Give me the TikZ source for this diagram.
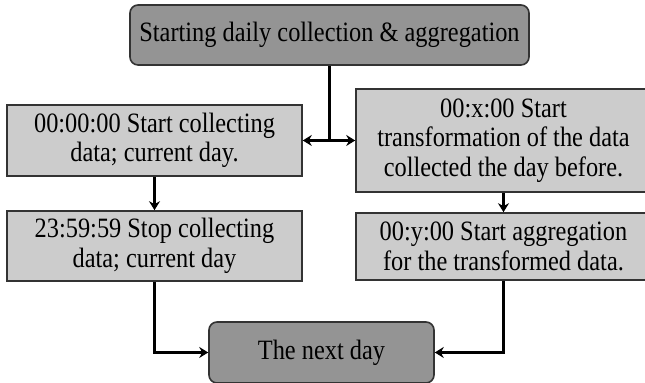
\documentclass[tikz,border=0pt]{standalone}
\usepackage{fontspec}
\setmainfont{Liberation Serif}[FakeStretch=0.87]
\usepackage{tikz}
\usetikzlibrary{arrows.meta, calc}
\tikzset{
    darkbox/.style={draw=black!80, line width=0.8pt, fill=black!42, rounded corners=4pt,
        inner sep=0pt, align=center, font=\fontsize{14}{14.7}\selectfont},
    lightbox/.style={draw=black!80, line width=0.8pt, fill=black!20,
        inner sep=0pt, align=center, minimum width=147.5pt, font=\fontsize{14}{14.7}\selectfont},
    flow/.style={line width=1.2pt, -{Stealth[length=4.5pt, width=5.5pt, inset=1.5pt]}}
}
\begin{document}
\begin{tikzpicture}[x=1pt, y=1pt]
            \useasboundingbox (0,0) rectangle (322.5,191.5);

            % top
            \node[darkbox, minimum width=199.5pt, minimum height=30pt] (start) at (164.75,174)
                {Starting daily collection \& aggregation};

            % left column
            \node[lightbox, minimum height=35.5pt] (collect) at (77.25,121.25)
                {00:00:00 Start collecting\\data; current day.};
            \node[lightbox, minimum height=35pt] (stopcol) at (77.25,68.5)
                {23:59:59 Stop collecting\\data; current day};

            % right column
            \node[lightbox, minimum height=51.5pt] (transform) at (251.75,121.25)
                {00:x:00 Start\\transformation of the data\\collected the day before.};
            \node[lightbox, minimum height=33.5pt] (aggregate) at (251.75,68.25)
                {00:y:00 Start aggregation\\for the transformed data.};

            % bottom
            \node[darkbox, minimum width=112.5pt, minimum height=30.5pt] (nextday) at (160.75,15.25)
                {The next day};

            % connections
            \coordinate (split) at (start.south |- collect.east);
            \draw[line width=1.2pt] (start.south) -- (split);
            \draw[flow] (split) -- (collect.east);
            \draw[flow] (split) -- (transform.west);
            \draw[flow] (collect) -- (stopcol);
            \draw[flow] (transform) -- (aggregate);
            \draw[flow] (stopcol.south) |- (nextday.west);
            \draw[flow] (aggregate.south) |- (nextday.east);
        \end{tikzpicture}
\end{document}
